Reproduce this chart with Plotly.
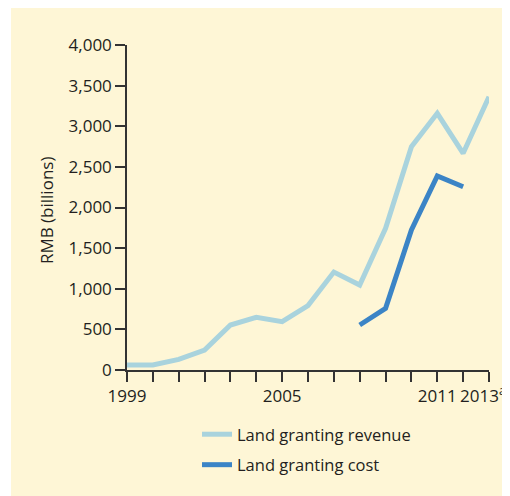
import plotly.graph_objects as go

years = list(range(1999, 2014))
revenue = [61, 61, 131, 246, 554, 648, 595, 792, 1205, 1046, 1744, 2749, 3159, 2667, 3364]
cost_years = [2008, 2009, 2010, 2011, 2012]
cost = [554, 759, 1723, 2388, 2256]

label_years = [1999, 2005, 2011]
last_label = "2013<sup>a</sup>"

CREAM = "#FEF6D6"
INK = "#231F20"
AXIS = "#333333"
FONT = "Open Sans"

# the page body adds an 8px offset, so the plot box is set in figure pixels
L, T, W, H = 119, 37, 362, 325

fig = go.Figure()

fig.add_trace(
    go.Scatter(
        x=years,
        y=revenue,
        mode="lines",
        name="Land granting revenue",
        legendgroup="rev",
        line=dict(color="#A9D3DD", width=5),
    )
)
fig.add_trace(
    go.Scatter(
        x=cost_years,
        y=cost,
        mode="lines",
        name="Land granting cost",
        legendgroup="cost",
        line=dict(color="#3B84C6", width=5),
    )
)

# cream panel
fig.add_shape(
    type="rect",
    xref="paper",
    yref="paper",
    x0=(3 - L) / W,
    x1=1.3,
    y0=-0.6,
    y1=1.3,
    fillcolor=CREAM,
    line_width=0,
    layer="below",
)

fig.add_annotation(
    text="RMB (billions)",
    xref="paper",
    yref="paper",
    x=(38 - L) / W,
    y=0.492,
    xanchor="center",
    yanchor="middle",
    textangle=-90,
    showarrow=False,
    font=dict(family=FONT, size=17, color=INK),
)

# last year label sits a little left of its tick, footnote mark at the edge
fig.add_annotation(
    text=last_label,
    xref="x",
    yref="y",
    x=years[-1],
    y=0,
    xanchor="right",
    yanchor="top",
    xshift=19,
    yshift=-10,
    showarrow=False,
    font=dict(family=FONT, size=17, color=INK),
)

fig.update_xaxes(
    range=[1999, 2013],
    tickvals=label_years,
    ticktext=[str(y) for y in label_years],
    ticks="outside",
    ticklen=10,
    tickwidth=1.5,
    tickcolor=AXIS,
    minor=dict(ticks="outside", ticklen=10, tickwidth=1.5, tickcolor=AXIS, dtick=1, tick0=1999),
    showline=True,
    linecolor=AXIS,
    linewidth=1.5,
    showgrid=False,
    zeroline=False,
    tickfont=dict(family=FONT, size=17, color=INK),
)
fig.update_yaxes(
    range=[0, 4000],
    dtick=500,
    tickformat=",d",
    ticks="outside",
    ticklen=10,
    tickwidth=1.5,
    tickcolor=AXIS,
    showline=True,
    linecolor=AXIS,
    linewidth=1.5,
    showgrid=False,
    zeroline=False,
    tickfont=dict(family=FONT, size=17, color=INK),
)

fig.update_layout(
    width=510,
    height=496,
    margin=dict(l=L, r=510 - L - W, t=T, b=496 - T - H),
    paper_bgcolor="white",
    plot_bgcolor=CREAM,
    showlegend=True,
    legend=dict(
        x=(189 - L) / W,
        y=(T + H - 409) / H,
        xanchor="left",
        yanchor="top",
        bgcolor="rgba(0,0,0,0)",
        font=dict(family=FONT, size=16.5, color=INK),
        tracegroupgap=6,
    ),
)

fig.write_html("out.html")
